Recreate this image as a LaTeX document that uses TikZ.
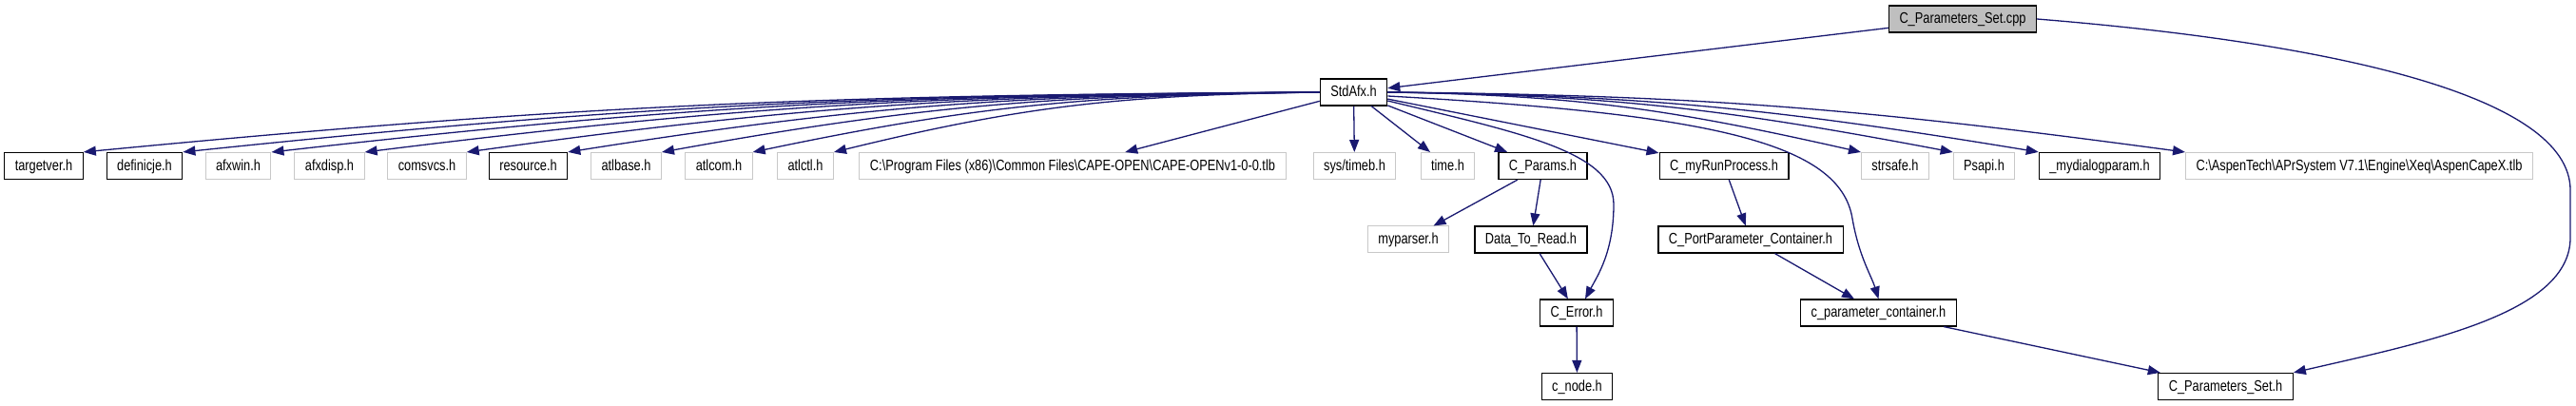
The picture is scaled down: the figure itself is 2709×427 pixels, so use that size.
\documentclass[tikz,border=0pt]{standalone}
\usepackage{fontspec}
\setmainfont{Liberation Sans}
\newfontfamily\doxfont[FakeStretch=0.8]{Liberation Sans}
\usepackage{xcolor}
\usepackage{tikz}
\usetikzlibrary{arrows.meta}
\definecolor{DoxEdge}{RGB}{25, 25, 112}
\definecolor{DoxRoot}{RGB}{191, 191, 191}
\definecolor{DoxMissing}{RGB}{200, 200, 200}
\newcommand{\bs}{\textbackslash}

\tikzset{
  hfile/.style={draw=black, line width=1.2pt, fill=white, minimum height=28pt,
                inner xsep=11pt, inner ysep=0pt, text height=12.5pt, text depth=3.1pt,
                font=\doxfont\fontsize{16}{18}\selectfont},
  rootfile/.style={hfile, fill=DoxRoot},
  sysfile/.style={hfile, draw=DoxMissing, line width=1pt},
  incl/.style={draw=DoxEdge, line width=1.3pt, -{Triangle[length=13pt, width=10pt]}},
}

\begin{document}
\begin{tikzpicture}[x=1pt, y=1pt]
    \useasboundingbox (0,0) rectangle (2709,-427);

    \node[rootfile] (cpp) at (2064,-20) {C\_Parameters\_Set.cpp};
    \node[hfile] (stdafx) at (1423.5,-97) {StdAfx.h};

    % files included by StdAfx.h
    \node[hfile]   (targetver) at (46,-174.5)   {targetver.h};
    \node[hfile]   (definicje) at (152,-174.5)  {definicje.h};
    \node[sysfile] (afxwin)    at (250.5,-174.5) {afxwin.h};
    \node[sysfile] (afxdisp)   at (346.5,-174.5) {afxdisp.h};
    \node[sysfile] (comsvcs)   at (449,-174.5)  {comsvcs.h};
    \node[hfile]   (resource)  at (555.5,-174.5) {resource.h};
    \node[sysfile] (atlbase)   at (658.5,-174.5) {atlbase.h};
    \node[sysfile] (atlcom)    at (756,-174.5)  {atlcom.h};
    \node[sysfile] (atlctl)    at (847,-174.5)  {atlctl.h};
    \node[sysfile] (capetlb)   at (1128,-174.5) {C:\bs Program Files (x86)\bs Common Files\bs CAPE-OPEN\bs CAPE-OPENv1-0-0.tlb};
    \node[sysfile] (timeb)     at (1424.5,-174.5) {sys/timeb.h};
    \node[sysfile] (timeh)     at (1522.5,-174.5) {time.h};
    \node[hfile]   (params)    at (1622.5,-174.5) {C\_Params.h};
    \node[hfile]   (runproc)   at (1813,-174.5) {C\_myRunProcess.h};
    \node[sysfile] (strsafe)   at (1993,-174.5) {strsafe.h};
    \node[sysfile] (psapi)     at (2086.5,-174.5) {Psapi.h};
    \node[hfile]   (dlgparam)  at (2208,-174.5) {\_mydialogparam.h};
    \node[sysfile] (aspentlb)  at (2481,-174.5) {C:\bs AspenTech\bs APrSystem V7.1\bs Engine\bs Xeq\bs AspenCapeX.tlb};

    \node[sysfile] (myparser)   at (1481,-252)  {myparser.h};
    \node[hfile]   (datatoread) at (1610,-252)  {Data\_To\_Read.h};
    \node[hfile]   (portcont)   at (1841,-252)  {C\_PortParameter\_Container.h};
    \node[hfile]   (cerror)     at (1658,-329)  {C\_Error.h};
    \node[hfile]   (paramcont)  at (1975.5,-329) {c\_parameter\_container.h};
    \node[hfile]   (cnode)      at (1658.5,-406.5) {c\_node.h};
    \node[hfile]   (paramset)   at (2340.5,-406.5) {C\_Parameters\_Set.h};

    \foreach \n/\d in {targetver/1300, definicje/1196, afxwin/1103, afxdisp/1004,
                       comsvcs/897, resource/791, atlbase/692, atlcom/596, atlctl/510}
        \draw[incl] (stdafx.west) .. controls +({-0.4*\d},-3) and +({0.4*\d},50) .. (\n.north east);
    \foreach \n/\d in {strsafe/498, psapi/594, dlgparam/685, aspentlb/837}
        \draw[incl] (stdafx.east) .. controls +({0.4*\d},-3) and +({-0.4*\d},45) .. (\n.north west);
    \foreach \a/\b in {cpp/stdafx, stdafx/capetlb, stdafx/timeb, stdafx/timeh, stdafx/params,
                       stdafx/runproc, params/myparser, params/datatoread, datatoread/cerror,
                       runproc/portcont, portcont/paramcont, cerror/cnode, paramcont/paramset}
        \draw[incl] (\a) -- (\b);

    \draw[incl] ([yshift=-9pt]stdafx.east) .. controls (1600,-140) and (1697,-160) .. (1697,-215)
        .. controls (1697,-265) and (1680,-290) .. ([xshift=9pt]cerror.north);
    \draw[incl] ([yshift=-4pt]stdafx.east) .. controls (1800,-120) and (1935,-150) .. (1948,-230)
        .. controls (1955,-270) and (1968,-290) .. (paramcont.north);
    \draw[incl] (cpp.east) .. controls (2450,-45) and (2703,-100) .. (2703,-200) -- (2703,-250)
        .. controls (2703,-330) and (2550,-360) .. (paramset.north east);
\end{tikzpicture}
\end{document}
